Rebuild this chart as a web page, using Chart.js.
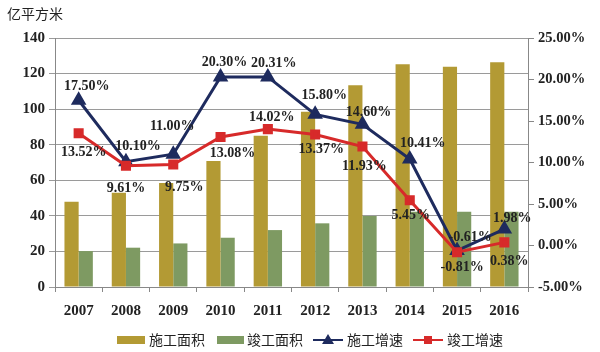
<!DOCTYPE html>
<html>
<head>
<meta charset="utf-8">
<script src="https://cdn.jsdelivr.net/npm/chart.js@4"></script>
<style>
  html, body { margin: 0; padding: 0; background: #fff; }
  #wrap { width: 600px; height: 352px; }
</style>
</head>
<body>
<div id="wrap"><canvas id="myChart" width="600" height="352"></canvas></div>
<script>
// years on the x axis
let years = ['2007', '2008', '2009', '2010', '2011', '2012', '2013', '2014', '2015', '2016'];

// areas, 亿平方米 (left axis)
let shigongArea = [48, 53, 58.5, 70.8, 85, 98.5, 113.5, 125.2, 123.8, 126.3];
let jungongArea = [20.2, 22.1, 24.5, 27.7, 32, 35.8, 39.9, 42.3, 42.3, 42.3];

// growth rates, % (right axis)
let shigongRate = [17.50, 10.10, 11.00, 20.30, 20.31, 15.80, 14.60, 10.41, -0.61, 1.98];
let jungongRate = [13.52, 9.61, 9.75, 13.08, 14.02, 13.37, 11.93, 5.45, -0.81, 0.38];

// where each value label sits relative to its point [dx, dy]
let shigongLabelPos = [[8,-14],[12,-15],[-1,-28],[4,-15],[6,-14],[9,-19],[6,-12],[13,-16],[13,-13],[8,-11]];
let jungongLabelPos = [[5,19],[0,23],[11,23],[12,16],[4,-12],[6,15],[2,20],[1,15],[5,15],[5,19]];

let gold = '#B39A34';
let green = '#7E9A62';
let navy = '#1E2B5E';
let red = '#D72A2A';
let serif = '"Liberation Serif", "Times New Roman", serif';
let cjk = '"Noto Sans CJK SC", sans-serif';

// draws the % labels, the unit title and the legend
let extras = {
  id: 'extras',
  afterDatasetsDraw(chart) {
    let ctx = chart.ctx;
    ctx.save();
    ctx.fillStyle = '#222';
    ctx.font = 'bold 14px ' + serif;
    ctx.textAlign = 'center';
    ctx.textBaseline = 'middle';
    let sets = [[2, shigongRate, shigongLabelPos], [3, jungongRate, jungongLabelPos]];
    sets.forEach(function(s) {
      let meta = chart.getDatasetMeta(s[0]);
      meta.data.forEach(function(pt, i) {
        ctx.fillText(s[1][i].toFixed(2) + '%', pt.x + s[2][i][0], pt.y + s[2][i][1]);
      });
    });

    // unit title
    ctx.font = '14px ' + cjk;
    ctx.textAlign = 'left';
    ctx.fillText('亿平方米', 7, 14);

    // legend
    let ly = 340;
    ctx.font = '14px ' + cjk;
    ctx.fillStyle = gold;
    ctx.fillRect(117, ly - 4, 28, 8);
    ctx.fillStyle = green;
    ctx.fillRect(217, ly - 4, 27, 8);

    ctx.strokeStyle = navy;
    ctx.lineWidth = 2;
    ctx.beginPath(); ctx.moveTo(313, ly); ctx.lineTo(343, ly); ctx.stroke();
    ctx.fillStyle = navy;
    ctx.beginPath(); ctx.moveTo(328, ly - 6); ctx.lineTo(334, ly + 4); ctx.lineTo(322, ly + 4); ctx.closePath(); ctx.fill();

    ctx.strokeStyle = red;
    ctx.beginPath(); ctx.moveTo(413, ly); ctx.lineTo(443, ly); ctx.stroke();
    ctx.fillStyle = red;
    ctx.fillRect(424, ly - 4, 8, 8);

    ctx.fillStyle = '#222';
    ctx.fillText('施工面积', 149, ly);
    ctx.fillText('竣工面积', 247, ly);
    ctx.fillText('施工增速', 347, ly);
    ctx.fillText('竣工增速', 447, ly);
    ctx.restore();
  }
};

let options = {
  type: 'bar',
  data: {
    labels: years,
    datasets: [
      { label: '施工面积', data: shigongArea, backgroundColor: gold, yAxisID: 'y', order: 2,
        barPercentage: 1, categoryPercentage: 0.6 },
      { label: '竣工面积', data: jungongArea, backgroundColor: green, yAxisID: 'y', order: 2,
        barPercentage: 1, categoryPercentage: 0.6 },
      { type: 'line', label: '施工增速', data: shigongRate, yAxisID: 'y1', order: 1,
        borderColor: navy, backgroundColor: navy, borderWidth: 3, fill: false,
        pointStyle: 'triangle', pointRadius: 6, pointHoverRadius: 6 },
      { type: 'line', label: '竣工增速', data: jungongRate, yAxisID: 'y1', order: 0,
        borderColor: red, backgroundColor: red, borderWidth: 3, fill: false,
        pointStyle: 'rect', pointRadius: 5, pointHoverRadius: 5 }
    ]
  },
  options: {
    responsive: false,
    animation: false,
    events: [],
    layout: { padding: { top: 38, left: 0, right: 0, bottom: 0 } },
    plugins: { legend: { display: false }, tooltip: { enabled: false } },
    scales: {
      x: {
        afterFit(s) { s.height = 65; },
        grid: { display: true, drawOnChartArea: false, offset: true, tickLength: 5, color: '#888' },
        border: { color: '#888' },
        ticks: { color: '#222', font: { family: serif, size: 15, weight: 'bold' }, padding: 10, maxRotation: 0 }
      },
      y: {
        position: 'left',
        min: 0, max: 140,
        afterFit(s) { s.width = 55; },
        grid: { color: '#9a9a9a', tickLength: 6 },
        border: { color: '#888' },
        ticks: { stepSize: 20, color: '#222', font: { family: serif, size: 15, weight: 'bold' }, padding: 4 }
      },
      y1: {
        position: 'right',
        min: -5, max: 25,
        afterFit(s) { s.width = 72; },
        grid: { drawOnChartArea: false, tickLength: 6, color: '#888' },
        border: { color: '#888' },
        ticks: { stepSize: 5, color: '#222', font: { family: serif, size: 14.5, weight: 'bold' }, padding: 4,
          callback: function(v) { return v.toFixed(2) + '%'; } }
      }
    }
  },
  plugins: [extras]
};

let mChart = new Chart(document.getElementById('myChart'), options);
</script>
</body>
</html>
